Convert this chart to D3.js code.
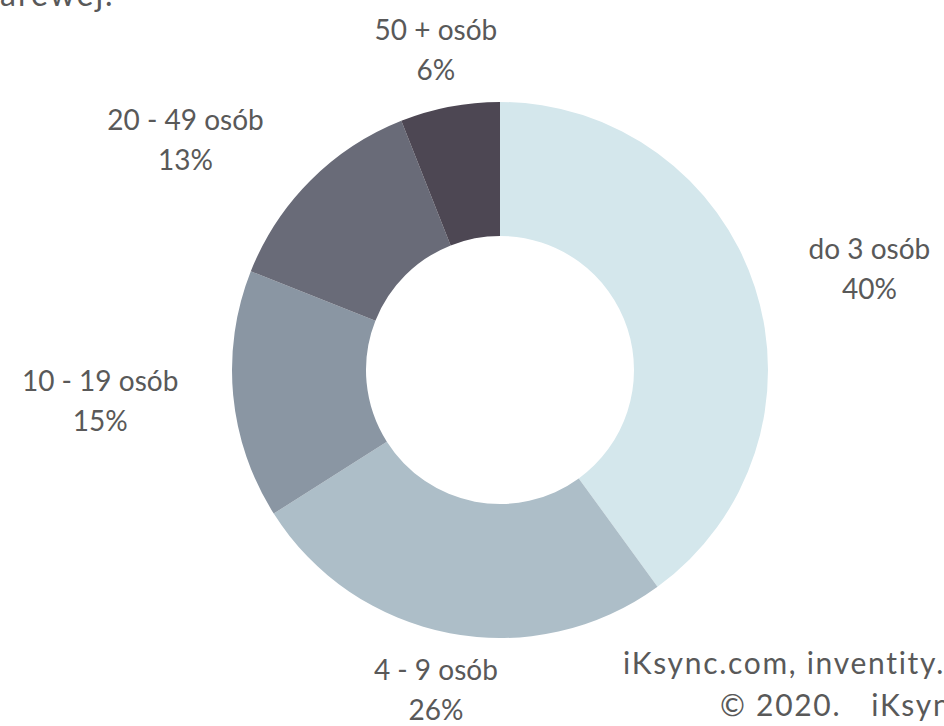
<!DOCTYPE html>
<html>
<head>
<meta charset="utf-8">
<script src="https://cdn.jsdelivr.net/npm/d3@7"></script>
<style>
  html, body { margin: 0; padding: 0; background: #fff; overflow: hidden; }
  text { font-family: Lato, "Open Sans", sans-serif; fill: #595959; }
</style>
</head>
<body>
<script>
const categories = ["do 3 osób", "4 - 9 osób", "10 - 19 osób", "20 - 49 osób", "50 + osób"];
const shares = [40, 26, 15, 13, 6];
const colours = ["#d4e7ec", "#adbec8", "#8a96a3", "#696b78", "#4d4753"];
const creditLines = [["iKsync.com, inventity.pl"], ["© 2020.", "iKsync.com"]];

const width = 944, height = 726;
const cx = 500, cy = 370;
const outerR = 268, innerR = 134;

const data = categories.map((c, i) => ({ name: c, value: shares[i], colour: colours[i] }));

const svg = d3
  .select("body")
  .append("svg")
  .attr("width", width)
  .attr("height", height);

// clipped title line left over from the page above the chart
svg
  .append("text")
  .attr("x", 0)
  .attr("y", 6)
  .attr("font-size", 32)
  .attr("letter-spacing", 2)
  .text("arewej.");

const g = svg.append("g").attr("transform", `translate(${cx},${cy})`);

const pie = d3.pie().sort(null).value((d) => d.value);
const arc = d3.arc().innerRadius(innerR).outerRadius(outerR);
const arcs = pie(data);

g.selectAll("path")
  .data(arcs)
  .enter()
  .append("path")
  .attr("d", arc)
  .attr("fill", (d) => d.data.colour);

// labels sit outside the ring, pushed out by their own box size
const gap = 28, lineH = 40, fs = 28;
const labels = g
  .selectAll(".label")
  .data(arcs)
  .enter()
  .append("text")
  .attr("class", "label")
  .attr("font-size", fs)
  .attr("text-anchor", "middle");

labels.append("tspan").attr("x", 0).attr("dy", 0).text((d) => d.data.name);
labels.append("tspan").attr("x", 0).attr("dy", lineH).text((d) => d.data.value + "%");

labels.each(function (d) {
  const t = d3.select(this);
  const w = d3.max(t.selectAll("tspan").nodes(), (n) => n.getComputedTextLength());
  const h = lineH + fs * 0.72;
  const a = (d.startAngle + d.endAngle) / 2;
  const dx = Math.sin(a), dy = -Math.cos(a);
  const f = Math.pow(Math.min(1, Math.abs(dx) / 0.6), 2);
  const x = dx * (outerR + gap) + Math.sign(dx) * (w / 2 + 27) * f;
  const y = dy * (outerR + gap) + dy * h / 2;
  // y is the box centre; shift to first baseline
  const base = y - h / 2 + fs * 0.72;
  t.attr("transform", `translate(${x},${base})`);
});

// source credits, running off the right edge
const credits = svg.append("g").attr("font-size", 30).attr("letter-spacing", 1.7);
const c1 = credits.append("text").attr("x", 623).attr("y", 674);
creditLines[0].forEach((s) => c1.append("tspan").text(s));
const c2 = credits.append("text").attr("x", 720).attr("y", 716);
creditLines[1].forEach((s, i) => c2.append("tspan").attr("dx", i ? 30 : 0).text(s));
</script>
</body>
</html>
